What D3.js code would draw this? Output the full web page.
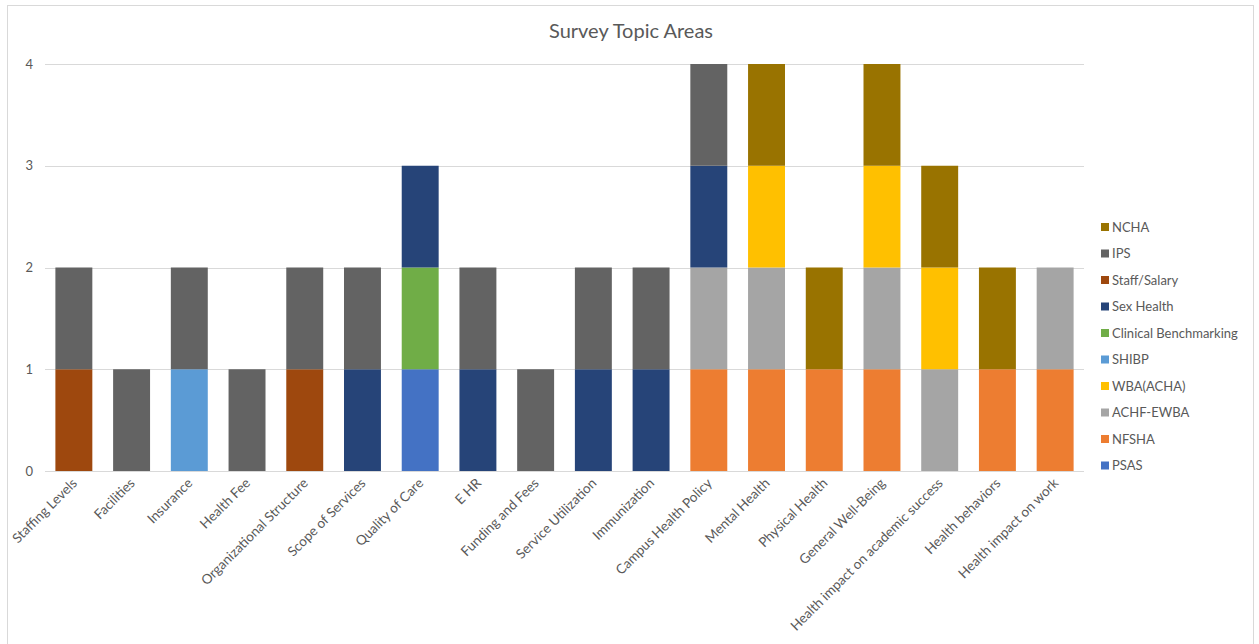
<!DOCTYPE html>
<html>
<head>
<meta charset="utf-8">
<script src="https://cdn.jsdelivr.net/npm/d3@7"></script>
<style>
  html, body { margin: 0; padding: 0; background: #fff; }
  svg { display: block; font-family: Lato, "Open Sans", sans-serif; }
</style>
</head>
<body>
<svg id="chart" width="1259" height="644"></svg>
<script>
// Survey topic areas and how many surveys of each kind cover them
const categories = [
  "Staffing Levels", "Facilities", "Insurance", "Health Fee",
  "Organizational Structure", "Scope of Services", "Quality of Care", "E HR",
  "Funding and Fees", "Service Utilization", "Immunization", "Campus Health Policy",
  "Mental Health", "Physical Health", "General Well-Being",
  "Health impact on academic success", "Health behaviors", "Health impact on work"
];

// Series in stacking order (bottom to top)
const seriesNames = [
  "PSAS", "NFSHA", "ACHF-EWBA", "WBA(ACHA)", "SHIBP",
  "Clinical Benchmarking", "Sex Health", "Staff/Salary", "IPS", "NCHA"
];

const seriesColors = [
  "#4472C4", "#ED7D31", "#A5A5A5", "#FFC000", "#5B9BD5",
  "#70AD47", "#264478", "#9E480E", "#636363", "#997300"
];

// Values per series, one entry per category
const PSAS                 = [0,0,0,0,0,0,1,0,0,0,0,0,0,0,0,0,0,0];
const NFSHA                = [0,0,0,0,0,0,0,0,0,0,0,1,1,1,1,0,1,1];
const ACHF_EWBA            = [0,0,0,0,0,0,0,0,0,0,0,1,1,0,1,1,0,1];
const WBA_ACHA             = [0,0,0,0,0,0,0,0,0,0,0,0,1,0,1,1,0,0];
const SHIBP                = [0,0,1,0,0,0,0,0,0,0,0,0,0,0,0,0,0,0];
const ClinicalBenchmarking = [0,0,0,0,0,0,1,0,0,0,0,0,0,0,0,0,0,0];
const SexHealth            = [0,0,0,0,0,1,1,1,0,1,1,1,0,0,0,0,0,0];
const StaffSalary          = [1,0,0,0,1,0,0,0,0,0,0,0,0,0,0,0,0,0];
const IPS                  = [1,1,1,1,1,1,0,1,1,1,1,1,0,0,0,0,0,0];
const NCHA                 = [0,0,0,0,0,0,0,0,0,0,0,0,1,1,1,1,1,0];

const seriesValues = [PSAS, NFSHA, ACHF_EWBA, WBA_ACHA, SHIBP,
  ClinicalBenchmarking, SexHealth, StaffSalary, IPS, NCHA];

const yTicks = [0, 1, 2, 3, 4];

// Table of rows for d3.stack
const rows = categories.map((c, i) => {
  const r = { category: c };
  seriesNames.forEach((s, j) => { r[s] = seriesValues[j][i]; });
  return r;
});

const svg = d3.select("#chart");
const textColor = "#595959";
const gridColor = "#d9d9d9";

// Chart-area frame
svg.append("rect")
  .attr("x", 7.5).attr("y", 5.5)
  .attr("width", 1246).attr("height", 660)
  .attr("fill", "#fff").attr("stroke", gridColor).attr("stroke-width", 1);

const plot = { left: 45, right: 1084, top: 64, bottom: 471 };

const x = d3.scaleBand()
  .domain(categories)
  .range([plot.left, plot.right])
  .paddingInner(0.36)
  .paddingOuter(0.18);

const y = d3.scaleLinear()
  .domain([0, 4])
  .range([plot.bottom, plot.top]);

// Title
svg.append("text")
  .attr("x", 631).attr("y", 38)
  .attr("text-anchor", "middle")
  .attr("font-size", 20)
  .attr("fill", textColor)
  .text("Survey Topic Areas");

// Horizontal gridlines
svg.append("g")
  .selectAll("line")
  .data(yTicks)
  .join("line")
  .attr("x1", plot.left).attr("x2", plot.right)
  .attr("y1", d => Math.round(y(d)) + 0.5)
  .attr("y2", d => Math.round(y(d)) + 0.5)
  .attr("stroke", gridColor)
  .attr("stroke-width", 1);

// Y axis labels
const yAxis = d3.axisLeft(y).tickValues(yTicks).tickFormat(d3.format("d"))
  .tickSize(0).tickPadding(12);
const yg = svg.append("g")
  .attr("transform", `translate(${plot.left},0)`)
  .call(yAxis);
yg.select(".domain").remove();
yg.selectAll("text")
  .attr("font-family", "Lato, 'Open Sans', sans-serif")
  .attr("font-size", 13)
  .attr("fill", textColor);

// Stacked bars
const stacked = d3.stack().keys(seriesNames)(rows);
const color = d3.scaleOrdinal().domain(seriesNames).range(seriesColors);

svg.append("g")
  .selectAll("g")
  .data(stacked)
  .join("g")
  .attr("fill", d => color(d.key))
  .selectAll("rect")
  .data(d => d.filter(p => p[1] - p[0] > 0))
  .join("rect")
  .attr("x", d => x(d.data.category))
  .attr("width", x.bandwidth())
  .attr("y", d => y(d[1]))
  .attr("height", d => y(d[0]) - y(d[1]));

// X axis baseline
svg.append("line")
  .attr("x1", plot.left).attr("x2", plot.right)
  .attr("y1", plot.bottom + 0.5).attr("y2", plot.bottom + 0.5)
  .attr("stroke", gridColor);

// Rotated category labels
const xAxis = d3.axisBottom(x).tickSize(0).tickPadding(0);
const xg = svg.append("g")
  .attr("transform", `translate(0,${plot.bottom})`)
  .call(xAxis);
xg.select(".domain").remove();
xg.selectAll("text")
  .attr("font-family", "Lato, 'Open Sans', sans-serif")
  .attr("font-size", 13.5)
  .attr("fill", textColor)
  .attr("text-anchor", "end")
  .attr("dy", null)
  .attr("y", 0)
  .attr("transform", "translate(4,13) rotate(-45)");

// Legend (top to bottom in reverse stacking order)
const legendItems = seriesNames.map((n, i) => ({ name: n, color: seriesColors[i] })).reverse();
const legend = svg.append("g")
  .selectAll("g")
  .data(legendItems)
  .join("g")
  .attr("transform", (d, i) => `translate(1101,${227 + i * 26.5})`);
legend.append("rect")
  .attr("x", 0).attr("y", -4)
  .attr("width", 8).attr("height", 8)
  .attr("fill", d => d.color);
legend.append("text")
  .attr("x", 11).attr("y", 0)
  .attr("dy", "0.35em")
  .attr("font-size", 13)
  .attr("fill", textColor)
  .text(d => d.name);
</script>
</body>
</html>
